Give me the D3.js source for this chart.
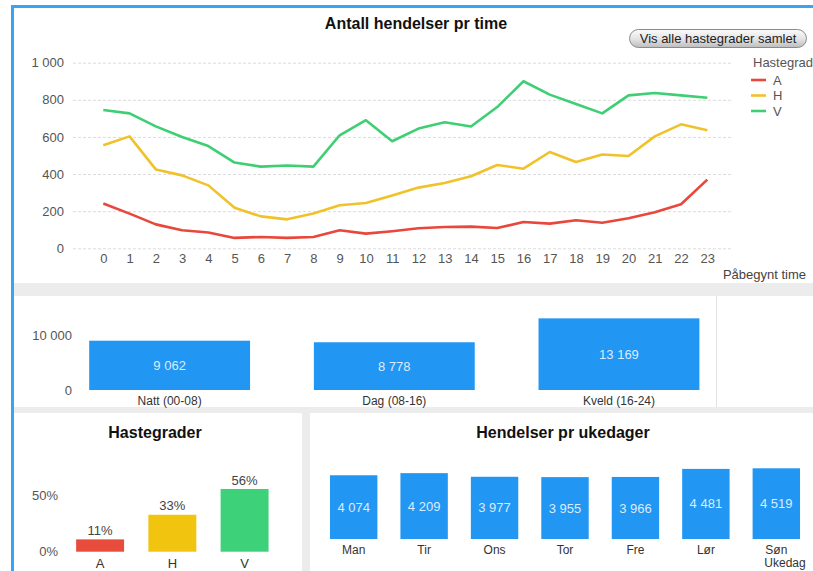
<!DOCTYPE html>
<html>
<head>
<meta charset="utf-8">
<script src="https://cdn.jsdelivr.net/npm/d3@7"></script>
<style>
  body { margin: 0; background: #fff; }
  svg { display: block; font-family: "Liberation Sans", Arial, sans-serif; }
  .axis text { fill: #555; font-size: 13px; }
</style>
</head>
<body>
<div id="chart"></div>
<script>
// data
const hours = [0,1,2,3,4,5,6,7,8,9,10,11,12,13,14,15,16,17,18,19,20,21,22,23]
const seriesA = [241,187,129,97,85,56,61,56,61,97,79,92,108,115,117,109,142,133,151,138,162,194,237,370]
const seriesH = [555,603,425,393,339,219,172,156,187,232,244,285,327,352,388,449,429,519,465,505,497,603,668,636]
const seriesV = [745,727,657,600,551,462,440,446,440,609,690,577,645,679,656,761,900,828,778,727,824,837,824,811]
const grades = ["A", "H", "V"]
const gradeColors = ["#e8473b", "#f0c22a", "#3ecf74"]
const hourTicks = [0, 200, 400, 600, 800, 1000]

const shiftLabels = ["Natt (00-08)", "Dag (08-16)", "Kveld (16-24)"]
const shiftValues = [9062, 8778, 13169]
const shiftTicks = [0, 10000]

const gradePct = [11, 33, 56]
const gradeBarColors = ["#e74c3c", "#f1c40f", "#3dd17a"]
const pctTicks = [0, 50]

const dayLabels = ["Man", "Tir", "Ons", "Tor", "Fre", "Lør", "Søn"]
const dayValues = [4074, 4209, 3977, 3955, 3966, 4481, 4519]

const W = 813, H = 571
const blue = "#2196f3"

const nb = d3.formatLocale({decimal: ",", thousands: " ", grouping: [3], currency: ["", " kr"]})
const fmt = nb.format(",d")

const svg = d3.select("#chart").append("svg")
    .attr("width", W)
    .attr("height", H)

// panel background / gaps
svg.append("rect").attr("width", W).attr("height", H).attr("fill", "#fff")
svg.append("rect").attr("x", 14).attr("y", 283).attr("width", W - 14).attr("height", 13).attr("fill", "#ececec")
svg.append("rect").attr("x", 14).attr("y", 407).attr("width", W - 14).attr("height", 6).attr("fill", "#ececec")
svg.append("rect").attr("x", 302).attr("y", 413).attr("width", 8).attr("height", H - 413).attr("fill", "#ececec")
svg.append("line").attr("x1", 716.5).attr("x2", 716.5).attr("y1", 296).attr("y2", 407)
    .attr("stroke", "#e2e2e2")
svg.append("path")
    .attr("d", "M12.5," + H + "V6.5H" + W)
    .attr("fill", "none")
    .attr("stroke", "#3ba3f4")
    .attr("stroke-width", 3)

// ---------- top: Antall hendelser pr time ----------
const x = d3.scaleLinear().domain([0, 23]).range([103.3, 707.3])
const y = d3.scaleLinear().domain([0, 1000]).range([248.3, 62.7])

svg.append("text")
    .attr("x", 416).attr("y", 23)
    .attr("dy", "0.35em")
    .attr("text-anchor", "middle")
    .style("font-size", "16px").style("font-weight", "bold").attr("fill", "#111")
    .text("Antall hendelser pr time")

const yAx = svg.append("g")
    .attr("class", "axis")
    .attr("transform", "translate(73,0)")
    .call(d3.axisLeft(y).tickValues(hourTicks).tickFormat(fmt).tickSize(-660).tickPadding(9))
yAx.select(".domain").remove()
yAx.selectAll(".tick line").attr("stroke", "#dcdcdc").attr("stroke-dasharray", "3,2")

const xAx = svg.append("g")
    .attr("class", "axis")
    .attr("transform", "translate(0," + y(0) + ")")
    .call(d3.axisBottom(x).tickValues(hours).tickSize(0).tickPadding(5))
xAx.select(".domain").remove()

const line = d3.line()
    .x((d, i) => x(hours[i]))
    .y(d => y(d))

svg.selectAll(".hline")
    .data([seriesA, seriesH, seriesV])
    .enter()
    .append("path")
    .attr("class", "hline")
    .attr("d", line)
    .attr("fill", "none")
    .attr("stroke", (d, i) => gradeColors[i])
    .attr("stroke-width", 2.6)
    .attr("stroke-linejoin", "round")

svg.append("text")
    .attr("x", 806).attr("y", 274).attr("dy", "0.35em")
    .attr("text-anchor", "end")
    .style("font-size", "13px").attr("fill", "#444")
    .text("Påbegynt time")

// button
const grad = svg.append("defs").append("linearGradient")
    .attr("id", "btn").attr("x1", 0).attr("x2", 0).attr("y1", 0).attr("y2", 1)
grad.append("stop").attr("offset", "0%").attr("stop-color", "#fbfbfb")
grad.append("stop").attr("offset", "55%").attr("stop-color", "#e2e2e2")
grad.append("stop").attr("offset", "100%").attr("stop-color", "#bdbdbd")
svg.append("rect")
    .attr("x", 629.5).attr("y", 29.5).attr("width", 177).attr("height", 18).attr("rx", 9)
    .attr("fill", "url(#btn)").attr("stroke", "#8a8a8a")
svg.append("text")
    .attr("x", 718).attr("y", 38.5).attr("dy", "0.35em")
    .attr("text-anchor", "middle")
    .style("font-size", "13px").attr("fill", "#222")
    .text("Vis alle hastegrader samlet")

// legend
svg.append("text")
    .attr("x", 753).attr("y", 62).attr("dy", "0.35em")
    .style("font-size", "13px").attr("fill", "#555")
    .text("Hastegrad")
const leg = svg.selectAll(".leg")
    .data(grades)
    .enter()
    .append("g")
    .attr("class", "leg")
    .attr("transform", (d, i) => "translate(751," + (80 + i * 15.5) + ")")
leg.append("line").attr("x1", 0).attr("x2", 15)
    .attr("stroke", (d, i) => gradeColors[i]).attr("stroke-width", 2.6)
leg.append("text").attr("x", 22).attr("dy", "0.35em")
    .style("font-size", "13px").attr("fill", "#555")
    .text(d => d)

// ---------- middle: shifts ----------
const xs = d3.scaleBand().domain(shiftLabels).range([57.3, 731.3]).paddingInner(0.284).paddingOuter(0.142)
const ys = d3.scaleLinear().domain([0, 10000]).range([390, 335.6])

const sAx = svg.append("g")
    .attr("class", "axis")
    .attr("transform", "translate(80,0)")
    .call(d3.axisLeft(ys).tickValues(shiftTicks).tickFormat(fmt).tickSize(0).tickPadding(8))
sAx.select(".domain").remove()

svg.selectAll(".sbar")
    .data(shiftValues)
    .enter()
    .append("rect")
    .attr("class", "sbar")
    .attr("x", (d, i) => xs(shiftLabels[i]))
    .attr("y", d => ys(d))
    .attr("width", xs.bandwidth())
    .attr("height", d => ys(0) - ys(d))
    .attr("fill", blue)

svg.selectAll(".slab")
    .data(shiftValues)
    .enter()
    .append("text")
    .attr("class", "slab")
    .attr("x", (d, i) => xs(shiftLabels[i]) + xs.bandwidth() / 2)
    .attr("y", d => (ys(d) + ys(0)) / 2)
    .attr("dy", "0.35em")
    .attr("text-anchor", "middle")
    .style("font-size", "13px").attr("fill", "#dcebff")
    .text(d => fmt(d))

svg.selectAll(".scat")
    .data(shiftLabels)
    .enter()
    .append("text")
    .attr("class", "scat")
    .attr("x", d => xs(d) + xs.bandwidth() / 2)
    .attr("y", 401).attr("dy", "0.35em")
    .attr("text-anchor", "middle")
    .style("font-size", "12px").attr("fill", "#333")
    .text(d => d)

// ---------- bottom left: Hastegrader ----------
svg.append("text")
    .attr("x", 155).attr("y", 432).attr("dy", "0.35em")
    .attr("text-anchor", "middle")
    .style("font-size", "16px").style("font-weight", "bold").attr("fill", "#111")
    .text("Hastegrader")

const xg = d3.scaleBand().domain(grades).range([64, 280.7]).paddingInner(0.336).paddingOuter(0.168)
const yg = d3.scaleLinear().domain([0, 50]).range([551.7, 495.7])

const gAx = svg.append("g")
    .attr("class", "axis")
    .attr("transform", "translate(64,0)")
    .call(d3.axisLeft(yg).tickValues(pctTicks).tickFormat(d => d + "%").tickSize(0).tickPadding(6))
gAx.select(".domain").remove()

svg.selectAll(".gbar")
    .data(gradePct)
    .enter()
    .append("rect")
    .attr("class", "gbar")
    .attr("x", (d, i) => xg(grades[i]))
    .attr("y", d => yg(d))
    .attr("width", xg.bandwidth())
    .attr("height", d => yg(0) - yg(d))
    .attr("fill", (d, i) => gradeBarColors[i])

svg.selectAll(".glab")
    .data(gradePct)
    .enter()
    .append("text")
    .attr("class", "glab")
    .attr("x", (d, i) => xg(grades[i]) + xg.bandwidth() / 2)
    .attr("y", d => yg(d) - 9)
    .attr("dy", "0.35em")
    .attr("text-anchor", "middle")
    .style("font-size", "13px").attr("fill", "#444")
    .text(d => d + "%")

svg.selectAll(".gcat")
    .data(grades)
    .enter()
    .append("text")
    .attr("class", "gcat")
    .attr("x", d => xg(d) + xg.bandwidth() / 2)
    .attr("y", 563).attr("dy", "0.35em")
    .attr("text-anchor", "middle")
    .style("font-size", "13px").attr("fill", "#333")
    .text(d => d)

// ---------- bottom right: Hendelser pr ukedager ----------
svg.append("text")
    .attr("x", 563).attr("y", 432).attr("dy", "0.35em")
    .attr("text-anchor", "middle")
    .style("font-size", "16px").style("font-weight", "bold").attr("fill", "#111")
    .text("Hendelser pr ukedager")

const xd = d3.scaleBand().domain(dayLabels).range([318.5, 811.5]).paddingInner(0.327).paddingOuter(0.163)
const yd = d3.scaleLinear().domain([0, 4519]).range([539, 468.3])

svg.selectAll(".dbar")
    .data(dayValues)
    .enter()
    .append("rect")
    .attr("class", "dbar")
    .attr("x", (d, i) => xd(dayLabels[i]))
    .attr("y", d => yd(d))
    .attr("width", xd.bandwidth())
    .attr("height", d => yd(0) - yd(d))
    .attr("fill", blue)

svg.selectAll(".dlab")
    .data(dayValues)
    .enter()
    .append("text")
    .attr("class", "dlab")
    .attr("x", (d, i) => xd(dayLabels[i]) + xd.bandwidth() / 2)
    .attr("y", d => (yd(d) + yd(0)) / 2)
    .attr("dy", "0.35em")
    .attr("text-anchor", "middle")
    .style("font-size", "13px").attr("fill", "#dcebff")
    .text(d => fmt(d))

svg.selectAll(".dcat")
    .data(dayLabels)
    .enter()
    .append("text")
    .attr("class", "dcat")
    .attr("x", d => xd(d) + xd.bandwidth() / 2)
    .attr("y", 550).attr("dy", "0.35em")
    .attr("text-anchor", "middle")
    .style("font-size", "12px").attr("fill", "#333")
    .text(d => d)

svg.append("text")
    .attr("x", 785).attr("y", 563).attr("dy", "0.35em")
    .attr("text-anchor", "middle")
    .style("font-size", "12px").attr("fill", "#333")
    .text("Ukedag")
</script>
</body>
</html>
